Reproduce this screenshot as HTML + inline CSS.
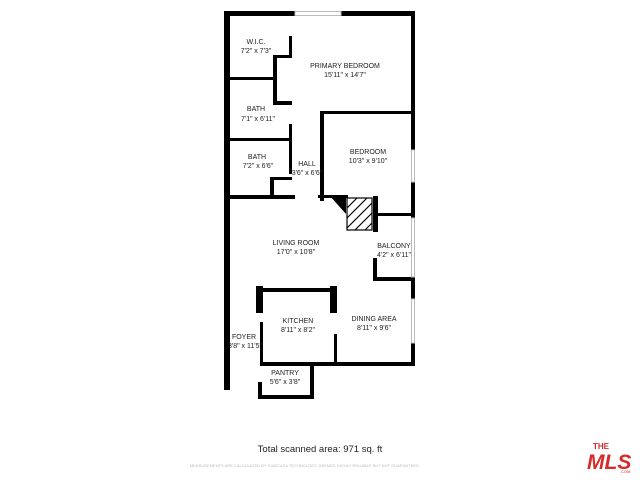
<!DOCTYPE html><html><head><style>body{margin:0;background:#fff}svg{display:block}text{font-family:"Liberation Sans",sans-serif;fill:#222}</style></head><body>
<svg width="640" height="480" viewBox="0 0 640 480">
<g fill="#000">
<rect x="224" y="11" width="71" height="5"/><rect x="341" y="11" width="74" height="5"/>
<rect x="224" y="11" width="6" height="379"/>
<rect x="411" y="11" width="4" height="139"/><rect x="411" y="182" width="4" height="36"/>
<rect x="225" y="77" width="50" height="3"/><rect x="273" y="55" width="4" height="50"/>
<rect x="273" y="55" width="19" height="3"/><rect x="289" y="36" width="3" height="21"/>
<rect x="273" y="101" width="19" height="4"/><rect x="289" y="101" width="3" height="4"/>
<rect x="225" y="138" width="67" height="3"/><rect x="289" y="124" width="3" height="50"/>
<rect x="270" y="177" width="22" height="3"/><rect x="270" y="177" width="4" height="20"/>
<rect x="320" y="111" width="95" height="3"/><rect x="320" y="111" width="4" height="90"/>
<rect x="225" y="195" width="70" height="4"/><rect x="318" y="195" width="30" height="3"/>
<polygon points="330,196 346,196 346,214"/>
<rect x="373" y="196" width="5" height="36"/><rect x="378" y="213" width="37" height="3"/>
<rect x="373" y="258" width="4" height="23"/><rect x="373" y="277" width="42" height="4"/>
<rect x="411" y="277" width="4" height="22"/><rect x="411" y="343" width="4" height="23"/>
<rect x="256" y="288" width="81" height="4"/><rect x="256" y="286" width="7" height="27"/><rect x="330" y="286" width="7" height="27"/>
<rect x="260" y="322" width="3" height="44"/><rect x="334" y="334" width="3" height="30"/>
<rect x="260" y="362" width="155" height="4"/>
<rect x="310" y="362" width="4" height="37"/><rect x="258" y="382" width="4" height="17"/><rect x="258" y="395" width="56" height="4"/>
</g>
<g fill="none" stroke="#bbb" stroke-width="1">
<rect x="295" y="11.5" width="46" height="4"/>
<rect x="411.5" y="150" width="3" height="32"/><rect x="411.5" y="218" width="3" height="59"/><rect x="411.5" y="299" width="3" height="44"/>
</g>
<g stroke="#000" stroke-width="1.2"><rect x="347" y="198" width="25" height="32" fill="#fff"/>
<line x1="347" y1="208" x2="357" y2="198"/><line x1="347" y1="218" x2="367" y2="198"/><line x1="347" y1="228" x2="372" y2="203"/><line x1="355" y1="230" x2="372" y2="213"/><line x1="365" y1="230" x2="372" y2="223"/></g>
<g font-size="7" text-anchor="middle">
<text x="256" y="44">W.I.C.</text><text x="256" y="53">7'2" x 7'3"</text>
<text x="345" y="68">PRIMARY BEDROOM</text><text x="345" y="77">15'11" x 14'7"</text>
<text x="256" y="111">BATH</text><text x="258" y="121">7'1" x 6'11"</text>
<text x="257" y="159">BATH</text><text x="258" y="168">7'2" x 6'6"</text>
<text x="368" y="154">BEDROOM</text><text x="368" y="163">10'3" x 9'10"</text>
<text x="307" y="166">HALL</text><text x="307" y="175">3'6" x 6'6"</text>
<text x="296" y="245">LIVING ROOM</text><text x="296" y="254">17'0" x 10'8"</text>
<text x="394" y="248">BALCONY</text><text x="394" y="257">4'2" x 6'11"</text>
<text x="298" y="323">KITCHEN</text><text x="298" y="332">8'11" x 8'2"</text>
<text x="374" y="321">DINING AREA</text><text x="374" y="330">8'11" x 9'6"</text>
<text x="244" y="339">FOYER</text><text x="245" y="348">3'8" x 11'5"</text>
<text x="285" y="375">PANTRY</text><text x="285" y="384">5'6" x 3'8"</text>
</g>
<text x="320" y="452" font-size="9.5" text-anchor="middle">Total scanned area: 971 sq. ft</text>
<text x="305" y="467" font-size="4" text-anchor="middle" style="fill:#bbb">MEASUREMENTS ARE CALCULATED BY CUBICASA TECHNOLOGY. DEEMED HIGHLY RELIABLE BUT NOT GUARANTEED.</text>
<text x="593" y="449" font-size="8" style="fill:#d52b2b;font-weight:bold">THE</text>
<text x="587" y="469" font-size="21" style="fill:#d52b2b;font-weight:bold;font-style:italic">MLS</text>
<text x="620" y="473" font-size="4" style="fill:#d52b2b">.COM</text>
</svg></body></html>
